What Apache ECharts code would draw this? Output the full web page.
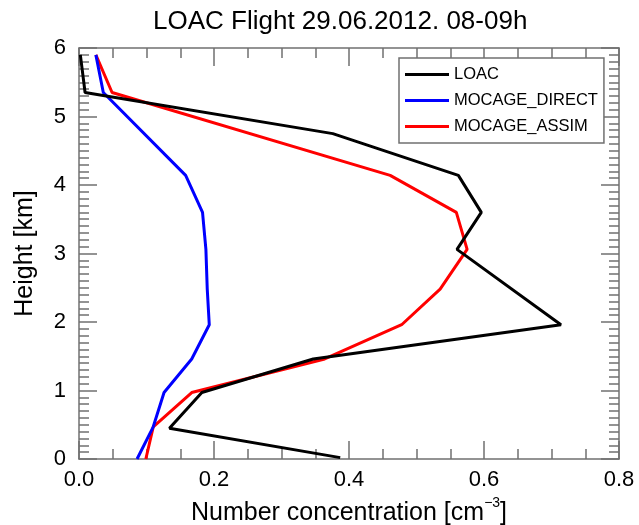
<!DOCTYPE html>
<html>
<head>
<meta charset="utf-8">
<script src="https://cdn.jsdelivr.net/npm/echarts@6/dist/echarts.min.js"></script>
<style>
  html, body { margin: 0; padding: 0; background: #fff; }
  #chart { width: 639px; height: 525px; }
</style>
</head>
<body>
<div id="chart"></div>
<script>
// Vertical profiles: number concentration (cm^-3) against height (km)
const seriesNames = ['LOAC', 'MOCAGE_DIRECT', 'MOCAGE_ASSIM'];
const seriesColors = ['#000000', '#0000ff', '#ff0000'];

// LOAC measurement levels (km) and concentrations
const loacHeight = [5.9, 5.35, 4.75, 4.14, 3.60, 3.06, 1.96, 1.46, 0.97, 0.45, 0.02];
const loacConc   = [0.002, 0.009, 0.376, 0.562, 0.596, 0.560, 0.714, 0.347, 0.182, 0.134, 0.387];

// Model levels (km) shared by both MOCAGE runs
const modelHeight  = [5.9, 5.35, 4.14, 3.60, 3.06, 2.48, 1.96, 1.46, 0.97, 0.47, 0.0];
const directConc   = [0.025, 0.036, 0.158, 0.183, 0.188, 0.190, 0.193, 0.167, 0.126, 0.110, 0.086];
const assimConc    = [0.025, 0.049, 0.461, 0.559, 0.575, 0.535, 0.478, 0.364, 0.167, 0.110, 0.099];

const xTicks = { min: 0, max: 0.8, step: 0.2 };
const yTicks = { min: 0, max: 6, step: 1 };

const pairs = (xs, ys) => xs.map((x, i) => [x, ys[i]]);
const profiles = [
  pairs(loacConc, loacHeight),
  pairs(directConc, modelHeight),
  pairs(assimConc, modelHeight)
];

const FONT = '"Liberation Sans", Arial, Helvetica, sans-serif';
const AXIS_GREY = '#707070';

const frameLine = { show: true, onZero: false, lineStyle: { color: AXIS_GREY, width: 1.5 } };
const majorTick = { show: true, inside: true, length: 18, lineStyle: { color: AXIS_GREY, width: 1.5 } };

function xAxisDef(pos, labels) {
  return {
    type: 'value', position: pos,
    min: xTicks.min, max: xTicks.max, interval: xTicks.step,
    axisLine: frameLine, axisTick: majorTick,
    minorTick: { show: true, splitNumber: 4, length: 10, lineStyle: { color: AXIS_GREY, width: 1.5 } },
    splitLine: { show: false },
    axisLabel: labels ? {
      show: true, margin: 10, color: '#000', fontFamily: FONT, fontSize: 22,
      formatter: v => v.toFixed(1)
    } : { show: false },
    name: labels ? 'Number concentration [cm{sup|−3}]' : '',
    nameLocation: 'middle', nameGap: 36,
    nameTextStyle: {
      color: '#000', fontFamily: FONT, fontSize: 25,
      rich: { sup: { fontFamily: FONT, fontSize: 14, color: '#000', padding: [0, 0, 20, 0] } }
    }
  };
}

function yAxisDef(pos, labels) {
  return {
    type: 'value', position: pos,
    min: yTicks.min, max: yTicks.max, interval: yTicks.step,
    axisLine: frameLine, axisTick: majorTick,
    minorTick: { show: true, splitNumber: 10, length: 10, lineStyle: { color: AXIS_GREY, width: 1.5 } },
    splitLine: { show: false },
    axisLabel: labels ? {
      show: true, margin: 13, color: '#000', fontFamily: FONT, fontSize: 22
    } : { show: false },
    name: labels ? 'Height [km]' : '',
    nameLocation: 'middle', nameGap: 41,
    nameTextStyle: { color: '#000', fontFamily: FONT, fontSize: 25 }
  };
}

const chart = echarts.init(document.getElementById('chart'), null, { renderer: 'canvas' });
chart.setOption({
  animation: false,
  backgroundColor: '#fff',
  title: {
    text: 'LOAC Flight 29.06.2012. 08-09h',
    left: 153, top: 9, padding: 0,
    textStyle: { color: '#000', fontFamily: FONT, fontSize: 26, fontWeight: 'normal' }
  },
  grid: { left: 79, right: 20, top: 48, bottom: 66, containLabel: false, outerBoundsMode: 'none' },
  legend: {
    orient: 'vertical', left: 399, top: 58,
    data: seriesNames,
    icon: 'rect', itemWidth: 44, itemHeight: 3, itemGap: 9,
    padding: [8, 6, 8, 6],
    borderColor: AXIS_GREY, borderWidth: 1.5, backgroundColor: '#fff',
    textStyle: { color: '#000', fontFamily: FONT, fontSize: 16.5 }
  },
  xAxis: [xAxisDef('bottom', true), xAxisDef('top', false)],
  yAxis: [yAxisDef('left', true), yAxisDef('right', false)],
  series: profiles.map((d, i) => ({
    name: seriesNames[i], type: 'line', data: d,
    xAxisIndex: 0, yAxisIndex: 0,
    showSymbol: false, symbol: 'none',
    lineStyle: { color: seriesColors[i], width: 3 },
    itemStyle: { color: seriesColors[i] },
    z: 3 - i
  }))
});
</script>
</body>
</html>
